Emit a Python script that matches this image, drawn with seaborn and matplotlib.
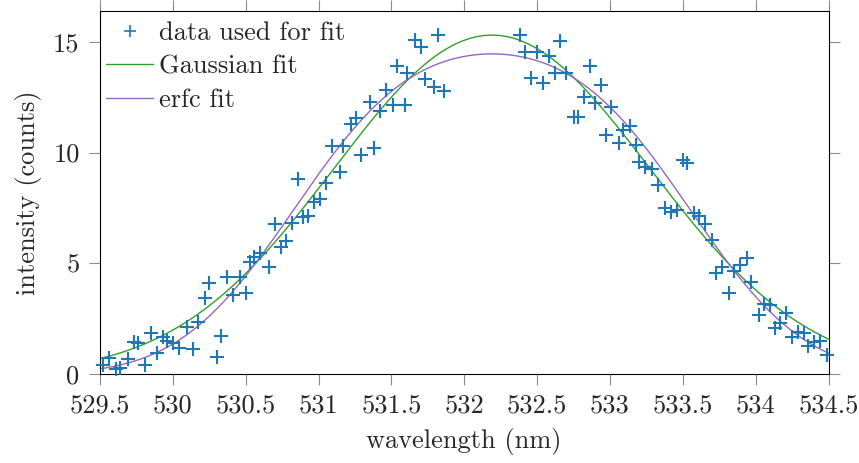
import math
import numpy as np
import pandas as pd
import matplotlib
matplotlib.use("Agg")
import matplotlib.pyplot as plt
from matplotlib.lines import Line2D
import seaborn as sns

# ---- data ----
wavelength = [
    529.52, 529.56, 529.61, 529.64, 529.69, 529.73, 529.76, 529.81, 529.85, 529.89,
    529.93, 529.96, 530.00, 530.04, 530.10, 530.14, 530.17, 530.22, 530.25, 530.30,
    530.33, 530.37, 530.41, 530.46, 530.50, 530.53, 530.56, 530.60, 530.66, 530.70,
    530.74, 530.78, 530.82, 530.86, 530.89, 530.93, 530.97, 531.01, 531.05, 531.09,
    531.15, 531.17, 531.22, 531.26, 531.29, 531.35, 531.38, 531.42, 531.46, 531.51,
    531.54, 531.59, 531.61, 531.66, 531.70, 531.73, 531.79, 531.82, 531.86,
    532.38, 532.42, 532.46, 532.50, 532.54, 532.58, 532.62, 532.66, 532.70, 532.75,
    532.78, 532.82, 532.86, 532.90, 532.94, 532.97, 533.01, 533.06, 533.09, 533.14,
    533.18, 533.20, 533.24, 533.29, 533.33, 533.38, 533.42, 533.46, 533.50, 533.53,
    533.58, 533.61, 533.65, 533.70, 533.73, 533.77, 533.82, 533.85, 533.89, 533.94,
    533.97, 534.02, 534.06, 534.10, 534.13, 534.17, 534.21, 534.25, 534.29, 534.33,
    534.36, 534.40, 534.44, 534.49,
]
intensity = [
    0.42, 0.72, 0.22, 0.27, 0.70, 1.47, 1.40, 0.42, 1.88, 0.97,
    1.70, 1.50, 1.40, 1.17, 2.15, 1.13, 2.37, 3.43, 4.12, 0.77,
    1.73, 4.38, 3.58, 4.40, 3.68, 5.08, 5.30, 5.46, 4.85, 6.80,
    5.76, 6.03, 6.81, 8.80, 7.08, 7.14, 7.79, 7.89, 8.64, 10.30,
    9.14, 10.30, 11.29, 11.55, 9.89, 12.30, 10.22, 11.89, 12.82, 12.15,
    13.92, 12.15, 13.58, 15.08, 14.78, 13.31, 12.97, 15.30, 12.78,
    15.30, 14.55, 13.35, 14.55, 13.13, 14.36, 13.58, 15.05, 13.58, 11.62,
    11.59, 12.52, 13.91, 12.25, 13.05, 10.79, 12.04, 10.45, 11.02, 11.20,
    10.34, 9.59, 9.36, 9.25, 8.54, 7.49, 7.33, 7.41, 9.67, 9.55,
    7.29, 7.14, 6.78, 6.06, 4.56, 4.85, 3.65, 4.67, 4.93, 5.23,
    4.18, 2.67, 3.17, 3.13, 2.07, 2.30, 2.78, 1.70, 1.92, 1.85,
    1.28, 1.47, 1.52, 0.87,
]

# fit parameters estimated from the drawn curves
gauss_amp, gauss_center, gauss_sigma = 15.3, 532.19, 1.085
erfc_amp, erfc_center, erfc_halfwidth, erfc_width = 14.90, 532.19, 1.358, 0.885

x_ticks = [529.5, 530, 530.5, 531, 531.5, 532, 532.5, 533, 533.5, 534, 534.5]
x_tick_labels = ["529.5", "530", "530.5", "531", "531.5", "532", "532.5",
                 "533", "533.5", "534", "534.5"]
y_ticks = [0, 5, 10, 15]
y_tick_labels = ["0", "5", "10", "15"]
legend_labels = ["data used for fit", "Gaussian fit", "erfc fit"]

# ---- style ----
sns.set_theme(style="white")
plt.rcParams["font.family"] = ["cmr10", "DejaVu Serif"]
plt.rcParams["mathtext.fontset"] = "cm"
plt.rcParams["axes.formatter.use_mathtext"] = True
plt.rcParams["axes.unicode_minus"] = False

FS = 19
blue = "#1f77b4"
green = "#2ca02c"
purple = "#9467bd"

fig = plt.figure(figsize=(8.59, 4.63), dpi=100)
ax = fig.add_axes([100 / 859, (463 - 374.3) / 463, 728.5 / 859, 363.8 / 463])

df = pd.DataFrame({"wavelength": wavelength, "intensity": intensity})

xf = np.linspace(529.5, 534.5, 400)
erf_v = np.vectorize(math.erf)
gauss = gauss_amp * np.exp(-(xf - gauss_center) ** 2 / (2 * gauss_sigma ** 2))
erfc_curve = erfc_amp / 2 * (erf_v((xf - (erfc_center - erfc_halfwidth)) / erfc_width)
                             - erf_v((xf - (erfc_center + erfc_halfwidth)) / erfc_width))
fits = pd.DataFrame({"wavelength": xf, "gauss": gauss, "erfc": erfc_curve})

sns.lineplot(data=fits, x="wavelength", y="gauss", color=green, lw=1.0, ax=ax,
             sort=False, estimator=None)
sns.lineplot(data=fits, x="wavelength", y="erfc", color=purple, lw=1.0, ax=ax,
             sort=False, estimator=None)
sns.scatterplot(data=df, x="wavelength", y="intensity", marker="+", s=100,
                color=blue, linewidth=1.5, ax=ax, clip_on=False, zorder=3)

ax.set_xlim(529.5, 534.5)
ax.set_ylim(0, 16.41)
ax.set_xticks(x_ticks)
ax.set_xticklabels(x_tick_labels)
ax.set_yticks(y_ticks)
ax.set_yticklabels(y_tick_labels)
ax.tick_params(axis="both", which="major", direction="out", length=7.7, width=0.8,
               color="#8c8c8c", labelsize=FS, pad=6,
               top=True, right=True, bottom=True, left=True)
ax.tick_params(axis="y", pad=7)
for s in ax.spines.values():
    s.set_color("black")
    s.set_linewidth(0.8)

ax.set_xlabel("wavelength (nm)", fontsize=FS, labelpad=8)
ax.set_ylabel("intensity (counts)", fontsize=FS, labelpad=8)

handles = [
    Line2D([], [], marker="+", linestyle="none", color=blue, markersize=8, markeredgewidth=1.2),
    Line2D([], [], color=green, lw=1.0),
    Line2D([], [], color=purple, lw=1.0),
]
ax.legend(handles, legend_labels, loc="upper left", bbox_to_anchor=(0.008, 0.97),
          frameon=False, fontsize=FS, handlelength=1.8, handletextpad=0.2,
          labelspacing=0.37, borderpad=0.0, borderaxespad=0.0)

fig.savefig("out.png", dpi=100)
